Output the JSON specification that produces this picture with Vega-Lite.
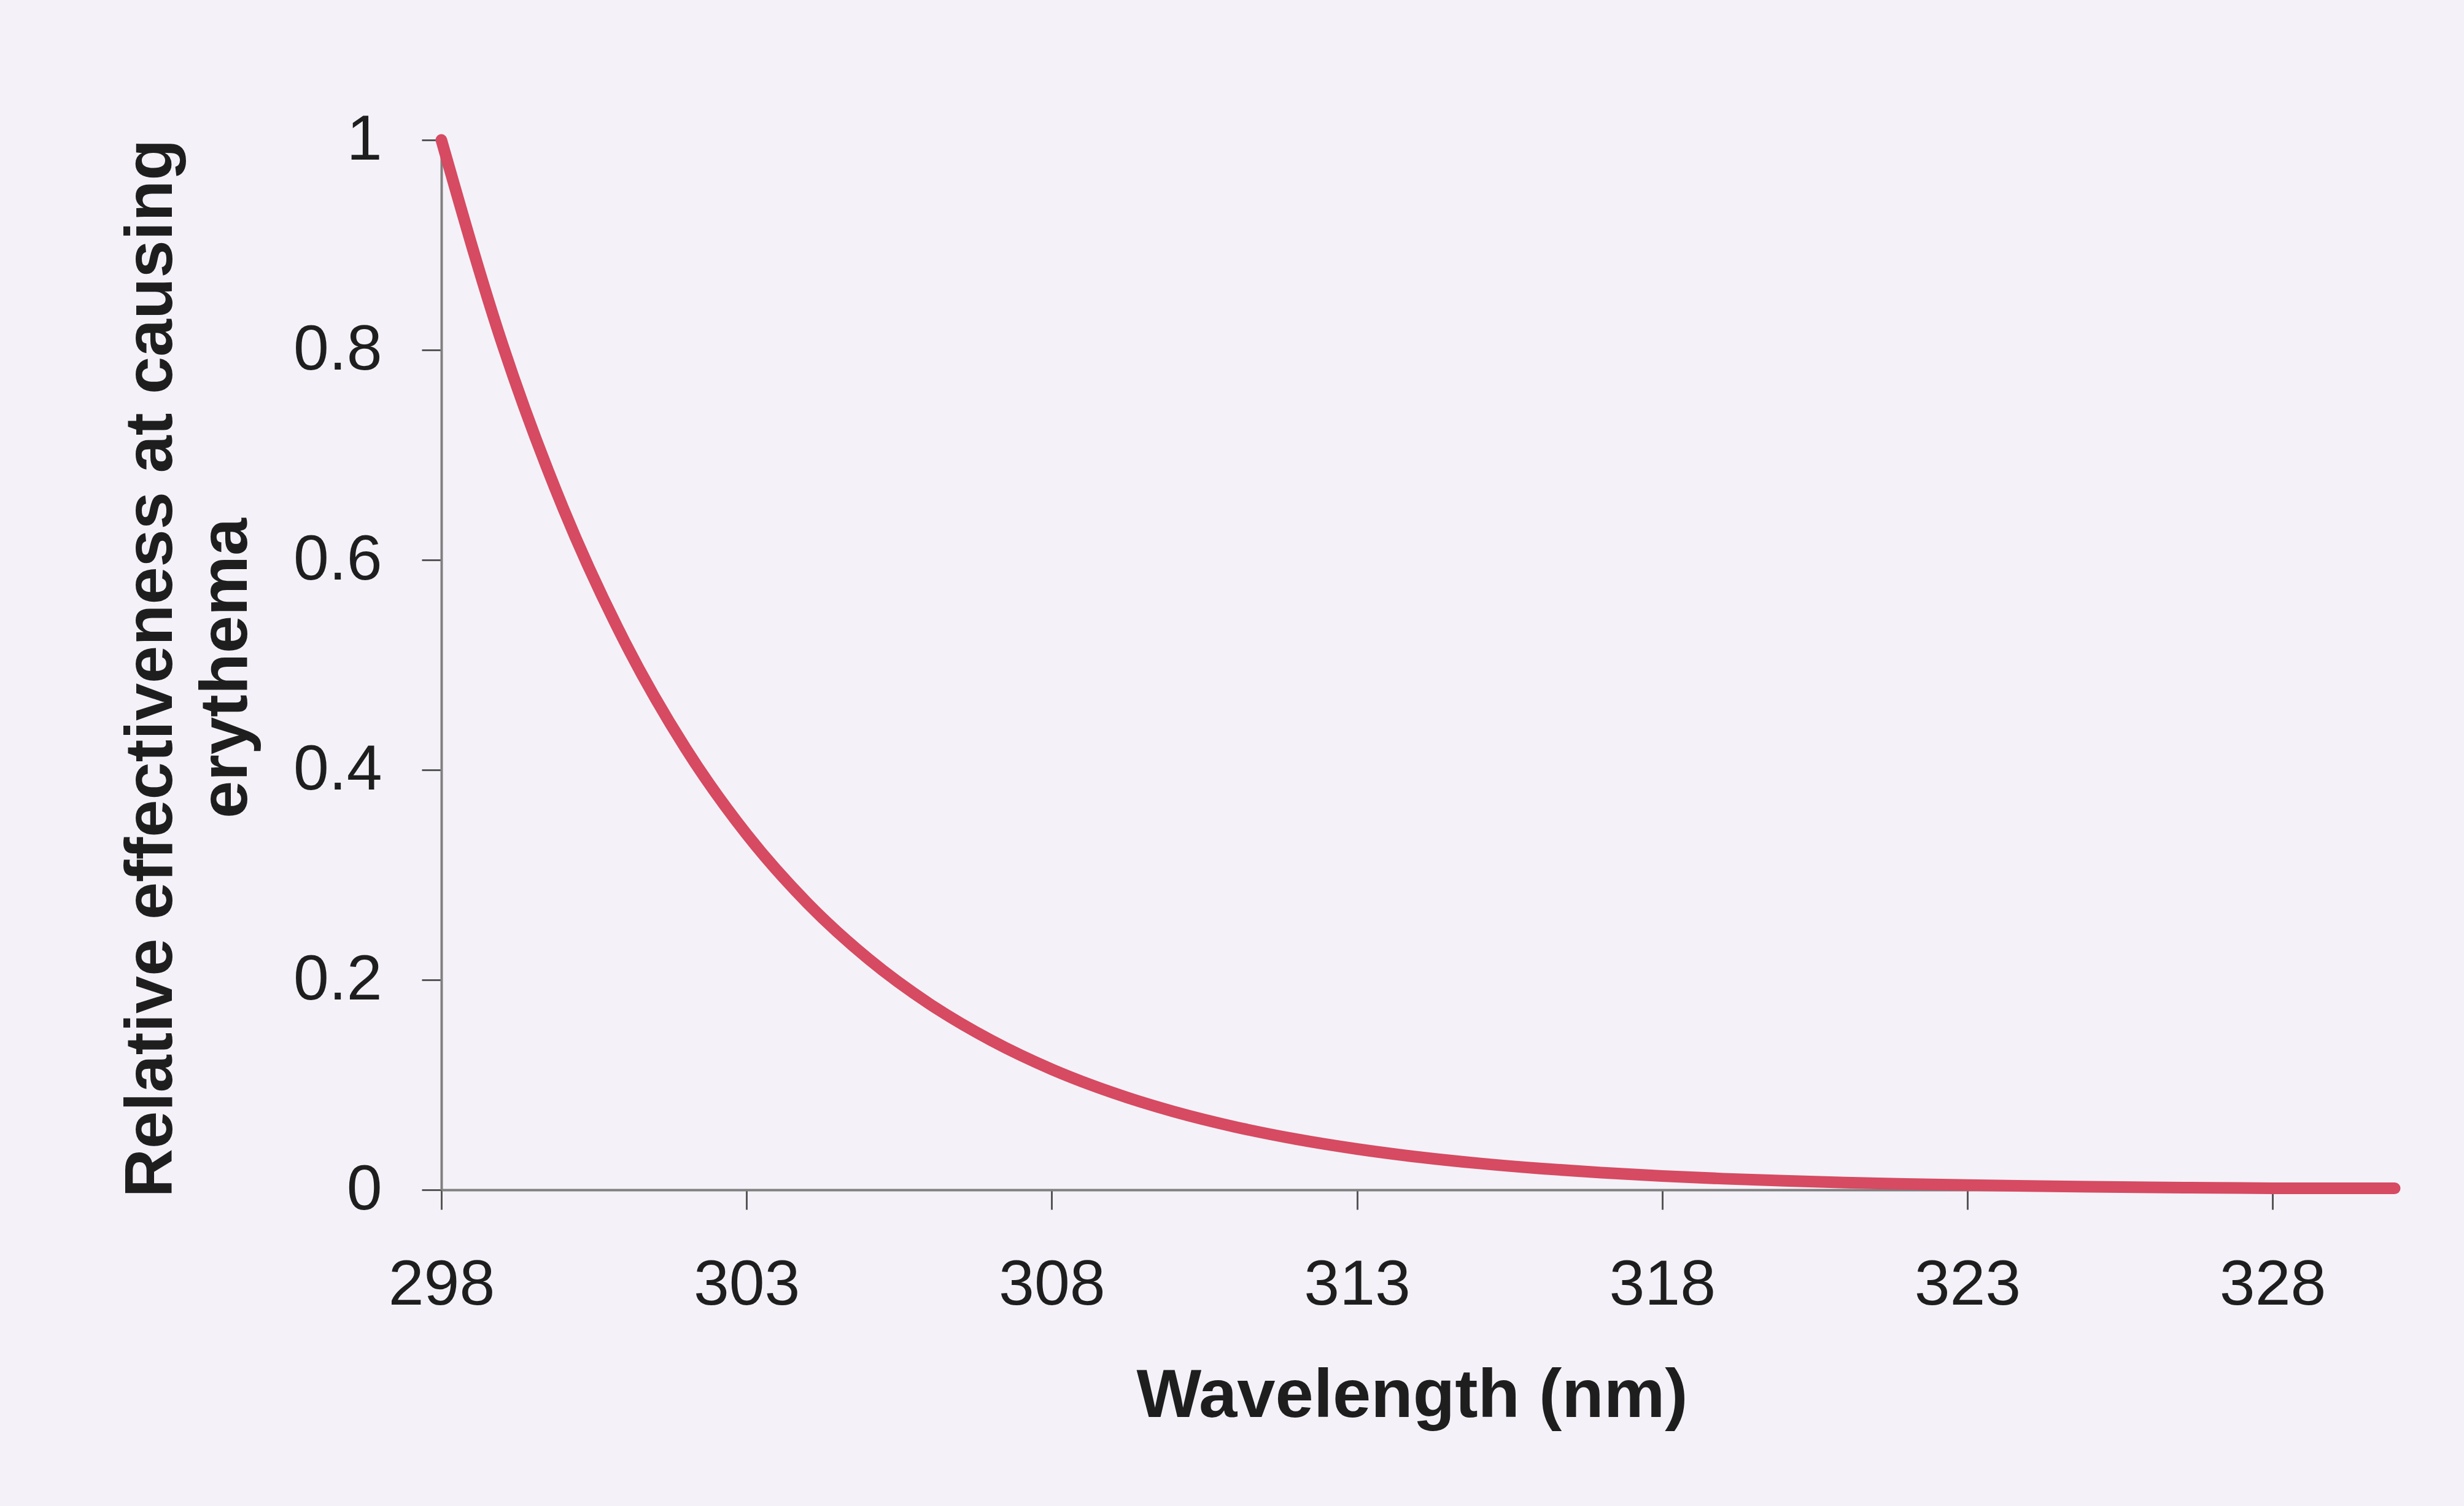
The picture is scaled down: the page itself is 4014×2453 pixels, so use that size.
{
  "$schema": "https://vega.github.io/schema/vega-lite/v6.json",
  "width": 3182,
  "height": 1710,
  "padding": {"left": 719, "top": 228, "right": 113, "bottom": 515},
  "autosize": {"type": "none"},
  "background": "#f4f2f8",
  "config": {"view": {"stroke": null}, "font": "Liberation Sans"},
  "data": {
    "values": [
      {"wavelength": 298, "effectiveness": 1.0},
      {"wavelength": 299, "effectiveness": 0.8054},
      {"wavelength": 300, "effectiveness": 0.6486},
      {"wavelength": 301, "effectiveness": 0.5224},
      {"wavelength": 302, "effectiveness": 0.4207},
      {"wavelength": 303, "effectiveness": 0.3388},
      {"wavelength": 304, "effectiveness": 0.2729},
      {"wavelength": 305, "effectiveness": 0.2198},
      {"wavelength": 306, "effectiveness": 0.177},
      {"wavelength": 307, "effectiveness": 0.1426},
      {"wavelength": 308, "effectiveness": 0.1148},
      {"wavelength": 309, "effectiveness": 0.0925},
      {"wavelength": 310, "effectiveness": 0.0745},
      {"wavelength": 311, "effectiveness": 0.06},
      {"wavelength": 312, "effectiveness": 0.0483},
      {"wavelength": 313, "effectiveness": 0.0389},
      {"wavelength": 314, "effectiveness": 0.0313},
      {"wavelength": 315, "effectiveness": 0.0252},
      {"wavelength": 316, "effectiveness": 0.0203},
      {"wavelength": 317, "effectiveness": 0.0164},
      {"wavelength": 318, "effectiveness": 0.0132},
      {"wavelength": 319, "effectiveness": 0.0106},
      {"wavelength": 320, "effectiveness": 0.0086},
      {"wavelength": 321, "effectiveness": 0.0069},
      {"wavelength": 322, "effectiveness": 0.0056},
      {"wavelength": 323, "effectiveness": 0.0045},
      {"wavelength": 324, "effectiveness": 0.0036},
      {"wavelength": 325, "effectiveness": 0.0029},
      {"wavelength": 326, "effectiveness": 0.0023},
      {"wavelength": 327, "effectiveness": 0.0019},
      {"wavelength": 328, "effectiveness": 0.0015},
      {"wavelength": 329, "effectiveness": 0.00146},
      {"wavelength": 330, "effectiveness": 0.00141}
    ]
  },
  "mark": {"type": "line", "color": "#d64a62", "strokeWidth": 19, "strokeJoin": "round", "strokeCap": "round", "interpolate": "monotone", "clip": false},
  "encoding": {
    "x": {
      "field": "wavelength",
      "type": "quantitative",
      "scale": {"domain": [298, 330], "nice": false, "zero": false},
      "axis": {
        "title": "Wavelength (nm)",
        "values": [298, 303, 308, 313, 318, 323, 328],
        "grid": false,
        "labelFontSize": 104,
        "labelColor": "#1e1e1e",
        "labelFlush": false,
        "labelOverlap": false,
        "labelBaseline": "alphabetic",
        "labelPadding": 154,
        "tickSize": 32,
        "tickWidth": 3,
        "tickColor": "#555555",
        "domainColor": "#808080",
        "domainWidth": 4,
        "titleFontSize": 112,
        "titleFontWeight": "bold",
        "titleColor": "#1e1e1e",
        "titleX": 1581,
        "titleY": 369,
        "titleBaseline": "alphabetic"
      }
    },
    "y": {
      "field": "effectiveness",
      "type": "quantitative",
      "scale": {"domain": [0, 1], "nice": false},
      "axis": {
        "title": ["Relative effectiveness at causing", "erythema"],
        "values": [0, 0.2, 0.4, 0.6, 0.8, 1],
        "format": "~g",
        "grid": false,
        "labelFontSize": 104,
        "labelColor": "#1e1e1e",
        "labelFlush": false,
        "labelOverlap": false,
        "labelPadding": 65,
        "tickSize": 32,
        "tickWidth": 3,
        "tickColor": "#555555",
        "domainColor": "#808080",
        "domainWidth": 4,
        "titleFontSize": 110,
        "titleFontWeight": "bold",
        "titleColor": "#1e1e1e",
        "titleLineHeight": 122,
        "titleX": -440,
        "titleY": 860,
        "titleBaseline": "alphabetic"
      }
    }
  }
}
